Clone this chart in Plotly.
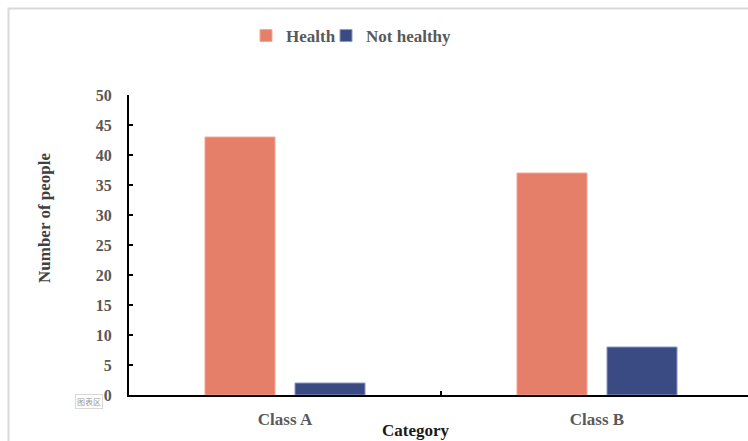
import plotly.graph_objects as go

categories = ["Class A", "Class B"]
health = [43, 37]
not_healthy = [2, 8]
y_ticks = [0, 5, 10, 15, 20, 25, 30, 35, 40, 45, 50]

W, H = 748, 441
L, R, T, B = 129, 0, 95, 46
pw = W - L - R
ph = H - T - B
cat_px = 312.0

def px_x(x):
    return (x - L) / pw

def px_y(y):
    return (H - B - y) / ph

serif = "Liberation Serif, Times New Roman, serif"

fig = go.Figure()
fig.add_trace(go.Bar(
    name="Health", x=categories, y=health, legend="legend",
    marker=dict(color="#E57F69", line=dict(color="#F2A898", width=1)),
))
fig.add_trace(go.Bar(
    name="Not healthy", x=categories, y=not_healthy, legend="legend2",
    marker=dict(color="#3A4A82", line=dict(color="#8C9AC4", width=1)),
))

leg_common = dict(
    orientation="h", xanchor="left", y=px_y(36), yanchor="middle",
    font=dict(family=serif, size=17, color="#595959", weight="bold"),
    bgcolor="rgba(0,0,0,0)", itemclick=False, itemdoubleclick=False,
)

fig.update_layout(
    width=W, height=H,
    margin=dict(l=L, r=R, t=T, b=B, pad=0),
    paper_bgcolor="white", plot_bgcolor="white",
    barmode="group", bargap=0.423, bargroupgap=0.222,
    showlegend=True,
    legend=dict(x=px_x(246), **leg_common),
    legend2=dict(x=px_x(326), **leg_common),
    font=dict(family=serif),
    xaxis=dict(
        type="category", range=[-0.5, -0.5 + pw / cat_px],
        showline=True, linecolor="black", linewidth=2,
        ticks="inside", tickson="boundaries", ticklen=4, tickwidth=2, tickcolor="black",
        tickfont=dict(family=serif, size=17, color="#595959", weight="bold"),
        ticklabelstandoff=8,
        showgrid=False, zeroline=False, fixedrange=True,
    ),
    yaxis=dict(
        range=[0, 50], tickmode="array", tickvals=y_ticks,
        showline=True, linecolor="black", linewidth=2,
        ticks="inside", ticklen=4, tickwidth=2, tickcolor="black",
        tickfont=dict(family=serif, size=16, color="#595959", weight="bold"),
        ticklabelstandoff=12,
        showgrid=False, zeroline=False, fixedrange=True,
    ),
    annotations=[
        dict(text="Category", x=px_x(416), y=px_y(430), xref="paper", yref="paper",
             showarrow=False, xanchor="center", yanchor="middle",
             font=dict(family=serif, size=17, color="#1a1a1a", weight="bold")),
        dict(text="Number of people", x=px_x(44), y=px_y(218), xref="paper", yref="paper",
             showarrow=False, xanchor="center", yanchor="middle", textangle=-90,
             font=dict(family=serif, size=17, color="#404040", weight="bold")),
        dict(text="图表区", x=px_x(89), y=px_y(401), xref="paper", yref="paper",
             showarrow=False, xanchor="center", yanchor="middle",
             font=dict(family="Noto Sans CJK SC", size=8, color="#9a9a9a"),
             bordercolor="#d8d8d8", borderwidth=1, borderpad=1, bgcolor="white"),
    ],
    shapes=[
        dict(type="rect", xref="paper", yref="paper",
             x0=px_x(8.5), x1=px_x(W + 20), y0=px_y(H + 20), y1=px_y(8.5),
             line=dict(color="#D9D9D9", width=2), layer="below"),
    ],
)

fig.write_html("out.html", config={"displayModeBar": False})
